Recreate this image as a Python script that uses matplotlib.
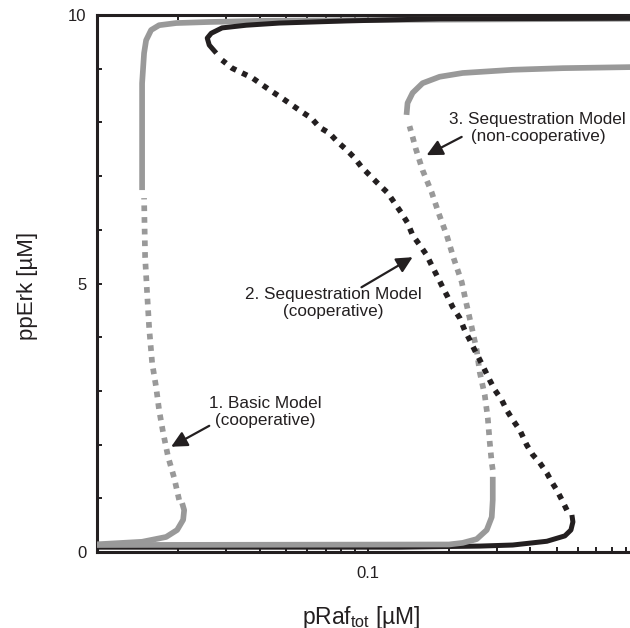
import matplotlib
matplotlib.use("Agg")
import matplotlib.pyplot as plt
from matplotlib.ticker import FixedLocator, NullFormatter, FixedFormatter

plt.rcParams['font.family'] = ['Liberation Sans', 'DejaVu Sans']
plt.rcParams['mathtext.fontset'] = 'custom'
plt.rcParams['mathtext.rm'] = 'Liberation Sans'
plt.rcParams['mathtext.it'] = 'Liberation Sans:italic'

GRIS = "#999999"
NEGRO = "#231f20"

# ---- 1. Basic Model (cooperative), gris
basic_bajo_x = [0.009, 0.01468, 0.01801, 0.01978, 0.02082, 0.0210, 0.02064]
basic_bajo_y = [0.13, 0.19, 0.28, 0.41, 0.60, 0.78, 0.91]
basic_inest_x = [0.02012, 0.01929, 0.01832, 0.01756, 0.01697, 0.01654,
                 0.01599, 0.01559, 0.01532, 0.01506, 0.01493]
basic_inest_y = [0.97, 1.38, 1.77, 2.22, 2.64, 3.07, 3.52, 4.17, 4.82, 5.49, 6.59]
basic_alto_x = [0.01468, 0.01468, 0.01468, 0.01493, 0.01519, 0.01585,
                0.01697, 0.01962, 0.0260, 0.0398, 0.1313, 0.95]
basic_alto_y = [6.74, 7.80, 8.73, 9.29, 9.53, 9.72, 9.81, 9.85, 9.87, 9.89, 9.91, 9.93]

# ---- 2. Sequestration Model (cooperative), negro
coop_bajo_x = [0.009, 0.1313, 0.2599, 0.3443, 0.4603, 0.5365, 0.5649, 0.5745, 0.5696]
coop_bajo_y = [0.09, 0.09, 0.11, 0.13, 0.20, 0.30, 0.41, 0.56, 0.69]
coop_inest_x = [0.5458, 0.5231, 0.5012, 0.4803, 0.4603, 0.4335, 0.4084, 0.3881,
                0.3656, 0.3443, 0.3272, 0.3135, 0.2954, 0.2830, 0.2713, 0.2599,
                0.2490, 0.2387, 0.2287, 0.2191, 0.2065, 0.1979, 0.1896, 0.1816,
                0.1726, 0.1654, 0.1558, 0.1468, 0.1406, 0.1336, 0.1259, 0.1186,
                0.1089, 0.1017, 0.0950, 0.0895, 0.0836, 0.0774, 0.0723, 0.0664,
                0.0620, 0.0574, 0.0527, 0.0484, 0.0445, 0.0408, 0.0375, 0.0344,
                0.0316, 0.0290]
coop_inest_y = [0.78, 0.97, 1.15, 1.30, 1.47, 1.66, 1.81, 1.99,
                2.27, 2.46, 2.64, 2.83, 3.02, 3.20, 3.39, 3.58,
                3.76, 3.95, 4.13, 4.36, 4.56, 4.75, 4.93, 5.12,
                5.34, 5.53, 5.72, 5.90, 6.13, 6.31, 6.50, 6.69,
                6.87, 7.02, 7.17, 7.34, 7.49, 7.64, 7.80, 7.91,
                8.08, 8.19, 8.32, 8.45, 8.57, 8.70, 8.83, 8.92,
                9.01, 9.16]
coop_alto_x = [0.0276, 0.0260, 0.02556, 0.02644, 0.0290, 0.03564, 0.04721, 0.0836, 0.1848, 0.95]
coop_alto_y = [9.29, 9.44, 9.57, 9.66, 9.76, 9.81, 9.85, 9.89, 9.93, 9.94]

# ---- 3. Sequestration Model (non-cooperative), gris
nocoop_bajo_x = [0.009, 0.20, 0.2248, 0.2533, 0.2759, 0.2879, 0.2904, 0.2904]
nocoop_bajo_y = [0.13, 0.14, 0.17, 0.24, 0.41, 0.65, 0.97, 1.40]
nocoop_inest_x = [0.2904, 0.2879, 0.2830, 0.2783, 0.2713, 0.2599, 0.2533, 0.2427,
                  0.2326, 0.2229, 0.2082, 0.1962, 0.1832, 0.1726, 0.1598, 0.1506,
                  0.1468, 0.1430]
nocoop_inest_y = [1.53, 1.66, 2.05, 2.50, 2.92, 3.35, 3.76, 4.19,
                  4.60, 5.03, 5.47, 5.90, 6.31, 6.70, 7.11, 7.52,
                  7.73, 7.93]
nocoop_alto_x = [0.1394, 0.1406, 0.1468, 0.1598, 0.1848, 0.2248, 0.3443, 0.5275, 0.95]
nocoop_alto_y = [8.14, 8.36, 8.55, 8.73, 8.85, 8.92, 8.98, 9.01, 9.03]

# etiquetas: texto, posicion del texto, punta de flecha, cola de flecha
etiquetas = [
    ("1. Basic Model\n(cooperative)", (0.0419, 2.60), (0.0188, 1.96), (0.0260, 2.35)),
    ("2. Sequestration Model\n(cooperative)", (0.0748, 4.64), (0.1468, 5.49), (0.0950, 4.93)),
    ("3. Sequestration Model\n(non-cooperative)", (0.4263, 7.90), (0.1654, 7.39), (0.2229, 7.73)),
]

fig = plt.figure(figsize=(6.3, 6.28), dpi=100)
ax = fig.add_axes([97 / 630, 76 / 628, 533 / 630, 537 / 628])

punteado_g = (0, (1.0, 1.05))
punteado_n = (0, (1.0, 1.2))

ax.plot(coop_bajo_x, coop_bajo_y, color=NEGRO, lw=3.6, solid_capstyle='butt', zorder=2)
for xs, ys, ls in [(basic_bajo_x, basic_bajo_y, '-'), (basic_inest_x, basic_inest_y, punteado_g),
                   (basic_alto_x, basic_alto_y, '-'), (nocoop_bajo_x, nocoop_bajo_y, '-'),
                   (nocoop_inest_x, nocoop_inest_y, punteado_g), (nocoop_alto_x, nocoop_alto_y, '-')]:
    ax.plot(xs, ys, color=GRIS, lw=4.1, linestyle=ls, solid_capstyle='butt',
            dash_capstyle='butt', solid_joinstyle='round', zorder=3)
ax.plot(coop_inest_x, coop_inest_y, color=NEGRO, lw=4.0, linestyle=punteado_n,
        dash_capstyle='butt', zorder=4)
ax.plot(coop_alto_x, coop_alto_y, color=NEGRO, lw=3.6, solid_capstyle='butt',
        solid_joinstyle='round', zorder=4)

for texto, pos, punta, cola in etiquetas:
    ax.text(pos[0], pos[1], texto, ha='center', va='center', fontsize=12.3,
            color=NEGRO, linespacing=1.15, zorder=5)
    ax.annotate("", xy=punta, xytext=cola,
                arrowprops=dict(arrowstyle='-|>,head_length=0.4,head_width=0.2',
                                mutation_scale=24, lw=1.6, color=NEGRO,
                                shrinkA=0, shrinkB=0), zorder=5)

ax.set_xscale('log')
ax.set_xlim(0.01, 0.934)
ax.set_ylim(0, 10)

ax.xaxis.set_major_locator(FixedLocator([0.1]))
ax.xaxis.set_major_formatter(FixedFormatter(["0.1"]))
ax.xaxis.set_minor_locator(FixedLocator([0.02, 0.03, 0.04, 0.05, 0.06, 0.07, 0.08, 0.09,
                                         0.2, 0.3, 0.4, 0.5, 0.6, 0.7, 0.8, 0.9]))
ax.xaxis.set_minor_formatter(NullFormatter())
ax.yaxis.set_major_locator(FixedLocator([0, 5, 10]))
ax.yaxis.set_minor_locator(FixedLocator(list(range(0, 11))))

ax.tick_params(which='both', direction='in', top=True, right=False, length=3.8,
               width=1.4, colors=NEGRO, labelsize=12)
ax.tick_params(axis='x', which='both', pad=10)
ax.tick_params(axis='y', which='both', pad=7.5)

for lado in ['left', 'bottom', 'top']:
    ax.spines[lado].set_linewidth(2.2)
    ax.spines[lado].set_color(NEGRO)
ax.spines['right'].set_visible(False)

fig.text(0.573, 4 / 628, "pRaf$_{\\mathrm{tot}}$ [µM]", ha='center', va='baseline',
         fontsize=16.5, color=NEGRO)
fig.text(27 / 630, 0.545, "ppErk [µM]", rotation=90, ha='center', va='center',
         fontsize=16, color=NEGRO)

fig.savefig("out.png", dpi=100)
